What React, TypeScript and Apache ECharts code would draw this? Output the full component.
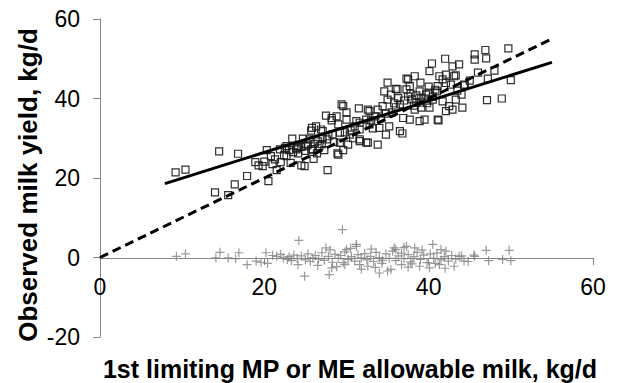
import React, { useEffect, useRef } from "react";
import * as echarts from "echarts";

const xTicks = [0, 20, 40, 60];
const yTicks = [-20, 0, 20, 40, 60];

const observed: number[][] = [
  [9.2,21.4],[10.4,22.1],[14.5,26.7],[16.8,26.1],[14.0,16.4],[15.6,15.7],[16.4,18.4],[17.9,20.5],[18.9,24.0],[19.3,23.2],[20.0,24.1],[20.3,27.0],[21.3,24.7],[20.5,19.2],[21.5,22.0],
  [22.7,28.0],[22.4,25.7],[23.4,29.9],[24.1,28.0],[24.1,26.2],[24.7,29.9],[24.5,23.2],[24.9,23.0],[25.5,29.7],[25.7,31.9],[25.7,27.2],[26.3,33.0],[26.4,26.2],[26.7,28.0],[27.5,35.7],[27.1,31.8],[27.7,22.0],[27.6,29.7],
  [22.5,27.6],[22.7,25.5],[23.9,27.2],[25.9,27.2],[26.9,32.2],[27.1,30.1],[28.2,35.1],[28.8,35.5],[29.4,38.5],[29.6,38.1],[29.2,31.4],[29.2,28.9],[29.0,25.9],[30.2,28.4],[30.0,34.7],[30.4,30.9],[31.6,29.3],[31.6,33.9],[32.4,28.9],[32.6,37.2],[25.1,28.0],[21.9,27.2],
  [40.4,48.8],[42.0,50.0],[42.9,48.1],[43.3,45.8],[38.3,45.6],[37.5,44.8],[40.1,46.9],[41.3,45.6],[42.1,46.0],[42.1,43.9],[41.1,43.1],[37.7,43.1],[36.2,42.3],[34.6,41.8],[35.4,41.0],[38.9,41.8],[39.1,40.2],[39.7,41.0],[38.5,38.9],[40.5,39.7],[41.7,39.3],[42.5,38.1],[43.3,39.7],[42.9,37.2],[41.1,34.7],[39.5,34.7],[38.9,34.3],[36.9,35.1],[37.7,34.7],[34.4,38.1],[35.0,39.7],[33.8,37.2],[32.8,36.8],[32.4,34.7],[31.2,34.3],[31.6,32.2],[32.8,33.5],[34.0,32.6],[35.2,33.0],[36.5,31.8],[36.8,31.2],[31.6,29.7],[32.6,28.9],[33.8,28.4],[34.8,30.9],[39.1,37.7],[38.3,37.2],[40.1,37.7],
  [49.7,52.6],[46.9,52.2],[45.6,51.1],[45.6,49.8],[47.0,50.1],[43.7,48.6],[43.1,45.6],[44.3,43.5],[47.2,45.0],[50.0,44.6],[47.1,39.6],[48.9,40.0],[44.1,37.7],[41.7,44.8],[42.7,43.5],
  [36.0,42.4],[37.3,45.0],[37.3,42.3],[28.9,26.2],[29.6,27.0],[28.2,34.5],[25.8,32.6],[44.4,43.3],[42.1,36.8],[41.2,34.5],
  [23.0,27.0],[23.5,26.5],[24.0,27.5],[24.5,27.8],[25.0,26.8],[25.3,28.4],[26.0,28.6],[26.5,29.2],[27.0,28.5],[27.8,30.5],[28.3,31.0],[28.5,29.0],[29.8,31.5],[30.5,32.0],[31.0,33.0],[33.0,34.5],[33.5,35.5],[34.2,35.0],[35.5,36.5],[36.0,37.8],[36.5,38.5],[37.0,39.5],[37.5,40.5],[38.0,39.8],[38.5,40.8],[39.0,39.0],[39.5,40.0],[40.0,41.5],[40.5,40.5],[41.0,41.8],[37.8,41.2],[38.2,38.2],[39.8,38.8],[40.8,42.2],[36.3,40.1],[35.8,38.8],[34.8,36.2],[33.2,32.5],[30.8,30.0],[27.3,27.0],[22.0,24.0],[21.0,23.5],[20.8,25.5],[19.8,23.0],[23.2,23.8],[26.0,24.8],[30.0,36.5],[31.5,37.5],[29.0,33.5],[35.0,44.0],[39.0,44.0],[40.0,43.0],[44.0,41.0],[45.0,44.5],[43.5,42.0],[46.0,46.5],[48.0,47.0]
];

const residuals: number[][] = [
  [9.3,0.3],[10.4,0.9],[14.1,-0.1],[14.6,1.3],[15.6,-0.1],[16.5,-0.3],[16.9,1.2],[17.9,-1.8],[19.0,-0.9],[19.6,-1.2],[20.2,1.2],[20.4,-1.5],[21.5,0.3],[22.3,-0.1],[24.2,4.3],[24.9,-4.7],[24.1,-1.8],[25.9,-0.1],[27.5,2.4],[27.9,-4.3],[28.2,-2.6],[29.5,7.0],[29.6,-1.3],[30.0,2.0],[31.2,3.3],
  [49.8,1.8],[50.0,-0.8],[49.0,-0.5],[47.0,1.8],[47.3,-0.8],[45.6,0.3],[44.3,-0.9],[43.7,0.3],[43.1,-2.2],[42.1,1.6],[41.3,-1.8],[40.5,3.3],[38.9,-2.2],[38.3,2.4],[37.3,2.8],[36.0,2.0],[35.4,-3.0],[34.0,-3.9],[32.6,-2.2],[31.6,-1.8],[31.2,2.8],[29.8,-1.8],[36.7,-1.8],[40.1,-2.6],[35.0,-3.4],
  [21.0,0.5],[22.0,0.8],[22.8,-0.5],[23.0,0.2],[23.3,-0.8],[23.6,0.6],[24.0,-0.3],[24.5,0.4],[25.0,-0.6],[25.3,0.9],[25.6,-1.0],[26.2,0.5],[26.6,-0.4],[27.0,1.2],[27.3,-0.7],[27.8,0.3],[28.3,-1.2],[28.6,0.8],[29.0,-0.2],[29.3,0.5],[29.8,1.4],[30.2,-0.5],[30.6,0.2],[31.0,-0.9],[31.4,0.7],[31.8,-0.1],[32.2,1.0],[32.5,-0.6],[32.9,0.3],[33.3,-1.0],[33.6,1.3],[34.0,0.0],[34.4,-0.7],[34.8,0.9],[35.2,-0.2],[35.6,1.6],[36.0,-0.8],[36.3,0.4],[36.7,1.1],[37.0,-0.3],[37.5,0.7],[37.8,-1.1],[38.2,0.2],[38.6,1.3],[39.0,-0.5],[39.4,0.6],[39.8,-1.3],[40.2,0.9],[40.6,-0.2],[41.0,1.1],[41.5,-0.6],[41.9,0.2],[42.4,-0.9],[42.8,0.5],[43.3,-0.4],[44.0,0.4],[44.8,-1.0],[45.5,0.6],
  [28.0,1.9],[30.5,2.3],[33.0,2.1],[35.8,2.4],[37.0,2.5],[39.2,1.9],[41.5,2.0],[26.5,-2.0],[28.8,-2.3],[33.5,-2.5],[37.5,-2.4],[42.0,-2.7],[34.3,-1.5],[38.0,-1.6],[40.8,-1.5],[31.8,-2.9]
];

const regressionLine: number[][] = [[7.9, 18.6], [55, 49.1]];
const unityLine: number[][] = [[0, 0], [55, 55]];

const xTitle = "1st limiting MP or ME allowable milk, kg/d";
const yTitle = "Observed milk yield, kg/d";

const FONT = '"Liberation Sans", Arial, sans-serif';
const AXIS_GRAY = "#868686";

export default function App() {
  const ref = useRef<HTMLDivElement>(null);
  useEffect(() => {
    if (!ref.current) return;
    const chart = echarts.init(ref.current, null, { renderer: "svg" });
    const xMin = xTicks[0];
    const xMax = xTicks[xTicks.length - 1];
    chart.setOption({
      animation: false,
      backgroundColor: "#fff",
      grid: [
        { left: 100, right: 25, top: 19, bottom: 46 },
        // helper grid whose bottom edge sits on y = 0 of the main grid, carrying the x axis
        { left: 100, right: 25, top: 19, bottom: 125 },
      ],
      xAxis: [
        {
          gridIndex: 0,
          type: "value",
          min: xMin,
          max: xMax,
          interval: 20,
          axisLine: { show: false },
          axisTick: { show: false },
          axisLabel: { show: false },
          splitLine: { show: false },
        },
        {
          gridIndex: 1,
          type: "value",
          min: xMin,
          max: xMax,
          interval: 20,
          position: "bottom",
          axisLine: { show: true, onZero: false, lineStyle: { color: AXIS_GRAY, width: 1 } },
          axisTick: { show: true, length: 7, lineStyle: { color: AXIS_GRAY } },
          axisLabel: { color: "#000", fontSize: 23, fontFamily: FONT, margin: 17 },
          splitLine: { show: false },
        },
      ],
      yAxis: [
        {
          gridIndex: 0,
          type: "value",
          min: yTicks[0],
          max: yTicks[yTicks.length - 1],
          interval: 20,
          axisLine: { show: true, onZero: false, lineStyle: { color: AXIS_GRAY, width: 1 } },
          axisTick: { show: true, length: 7, lineStyle: { color: AXIS_GRAY } },
          axisLabel: { color: "#000", fontSize: 23, fontFamily: FONT, margin: 20 },
          splitLine: { show: false },
        },
        {
          gridIndex: 1,
          type: "value",
          min: 0,
          max: yTicks[yTicks.length - 1],
          show: false,
        },
      ],
      graphic: [
        {
          type: "text",
          x: 28,
          y: 185,
          rotation: Math.PI / 2,
          style: {
            text: yTitle,
            font: `bold 26px ${FONT}`,
            fill: "#000",
            textAlign: "center",
            textVerticalAlign: "middle",
          },
        },
        {
          type: "text",
          x: 350,
          y: 369,
          style: {
            text: xTitle,
            font: `bold 25px ${FONT}`,
            fill: "#000",
            textAlign: "center",
            textVerticalAlign: "middle",
          },
        },
      ],
      series: [
        {
          type: "scatter",
          xAxisIndex: 0,
          yAxisIndex: 0,
          data: residuals,
          symbol: "path://M4 0 L4 8 M0 4 L8 4",
          symbolSize: 9,
          itemStyle: { color: "none", borderColor: "#808080", borderWidth: 1.2 },
          z: 2,
        },
        {
          type: "scatter",
          xAxisIndex: 0,
          yAxisIndex: 0,
          data: observed,
          symbol: "rect",
          symbolSize: 7,
          itemStyle: { color: "rgba(0,0,0,0)", borderColor: "#1a1a1a", borderWidth: 1.2, opacity: 0.9 },
          z: 3,
        },
        {
          type: "line",
          xAxisIndex: 0,
          yAxisIndex: 0,
          data: unityLine,
          symbol: "none",
          lineStyle: { color: "#000", width: 3, type: [9, 5] },
          z: 4,
        },
        {
          type: "line",
          xAxisIndex: 0,
          yAxisIndex: 0,
          data: regressionLine,
          symbol: "none",
          lineStyle: { color: "#000", width: 3 },
          z: 4,
        },
      ],
    });
    return () => chart.dispose();
  }, []);
  return (
    <div
      ref={ref}
      style={{ position: "fixed", left: 0, top: 0, width: 618, height: 383, background: "#fff" }}
    />
  );
}
